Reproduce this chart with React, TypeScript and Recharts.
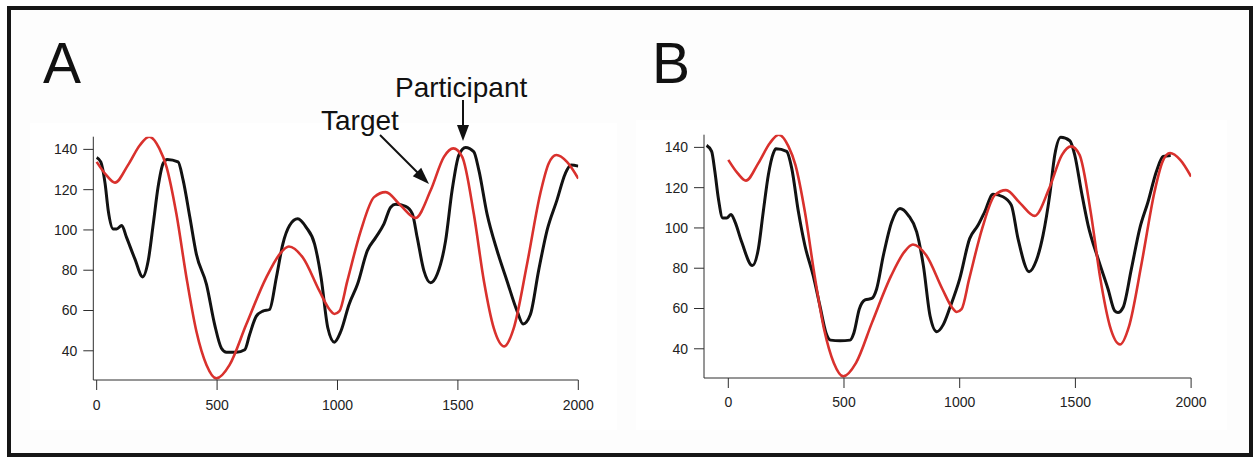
import React from 'react'
import { LineChart, Line, XAxis, YAxis } from 'recharts'

// Target trace (same in both panels)
const targetX = [0, 40, 76, 130, 180, 218, 260, 290, 331, 373, 414, 456, 497, 552, 621, 704, 760, 798, 856, 925, 967, 987, 1008, 1041, 1097, 1152, 1200, 1262, 1324, 1387, 1442, 1481, 1518, 1566, 1608, 1649, 1693, 1732, 1787, 1842, 1877, 1909, 1953, 2000]
const targetY = [133.8, 127.2, 123.5, 132.2, 142.2, 146.3, 140.5, 131.3, 108, 76.3, 49.7, 33, 26.3, 33, 53, 76.3, 88, 91.8, 86.3, 69.7, 60.5, 58.3, 59.7, 74.7, 99.7, 116.3, 118.8, 112.2, 106, 119.7, 136.3, 140.5, 136.3, 108, 74.7, 51.3, 42.2, 51.3, 83, 118, 133, 137.2, 133.8, 125.5]

// Participant trace, panel A (lagging)
const partAX = [0, 17, 35, 48, 69, 83, 104, 124, 159, 191, 214, 235, 255, 276, 293, 338, 359, 387, 414, 456, 490, 518, 539, 580, 615, 635, 663, 690, 718, 746, 773, 801, 835, 870, 905, 932, 960, 987, 1014, 1048, 1083, 1124, 1159, 1193, 1221, 1242, 1283, 1311, 1331, 1359, 1387, 1414, 1449, 1476, 1504, 1532, 1566, 1587, 1621, 1663, 1704, 1746, 1771, 1801, 1835, 1870, 1911, 1946, 1970, 2000]
const partAY = [136, 133.8, 123, 109.7, 100.5, 100.5, 102.2, 96.3, 85.5, 76.7, 84.7, 103, 121.3, 133, 135, 133.8, 124.7, 106.3, 88, 73, 53, 41.3, 39.3, 39.3, 40.5, 48, 57.2, 59.7, 60.5, 76.3, 93, 102.2, 105.5, 101.3, 93, 76.3, 51.3, 44.3, 49.7, 63, 73, 89.7, 96.3, 103, 111.3, 112.7, 111.7, 108, 96.3, 79.7, 73.8, 78, 94.7, 119.7, 137.2, 141, 138.8, 129.7, 108, 89.7, 74.7, 59.7, 53.3, 58, 79.7, 99.7, 114.7, 128, 132.2, 131.7]

// Participant trace, panel B (shifted)
const partBX = [-94, -72, -58, -43, -24, -7, 12, 29, 58, 104, 130, 151, 173, 195, 206, 252, 274, 303, 331, 367, 396, 422, 442, 483, 526, 543, 566, 591, 620, 641, 670, 706, 742, 778, 814, 843, 872, 901, 929, 958, 1000, 1043, 1079, 1108, 1144, 1187, 1223, 1252, 1300, 1331, 1360, 1389, 1411, 1437, 1476, 1497, 1526, 1555, 1598, 1641, 1670, 1684, 1706, 1742, 1778, 1814, 1850, 1879, 1912]
const partBY = [141, 138, 128, 114.7, 105, 105, 106.7, 103, 93, 81.3, 89.7, 108, 126.3, 137.2, 139.3, 138, 129.7, 108, 91.3, 76.3, 61.3, 48, 44.3, 44, 44.3, 48, 59.7, 64.3, 65, 69.7, 86.3, 103, 109.7, 106.3, 98, 81.3, 56.3, 48.5, 52, 60.5, 74.7, 94.7, 101.3, 108, 116.7, 115.5, 111.3, 94.7, 78.3, 83.8, 96.3, 116.3, 136.3, 145, 143.3, 136.3, 118, 101.3, 84.7, 69.7, 58.8, 58, 60.5, 79.7, 99.7, 113, 128, 135.5, 136]

const xTicks = [0, 500, 1000, 1500, 2000]
const yTicks = [40, 60, 80, 100, 120, 140]

const toPoints = (xs: number[], ys: number[]) => xs.map((x, i) => ({ x, y: ys[i] }))

const FONT = '"Liberation Sans", Arial, Helvetica, sans-serif'
const AXIS = '#2e2e2e'
const RED = '#d9312d'
const BLACK = '#121212'

interface PanelProps {
  left: number
  xMin: number
  margin: { top: number; right: number; bottom: number; left: number }
  participant: { x: number; y: number }[]
  xTickMargin: number
}

const target = toPoints(targetX, targetY)

function Panel({ left, xMin, margin, participant, xTickMargin }: PanelProps) {
  return (
    <div style={{ position: 'absolute', left, top: 0 }}>
      <LineChart width={630} height={460} margin={margin}>
        <XAxis
          type="number"
          dataKey="x"
          domain={[xMin, 2000]}
          ticks={xTicks}
          interval={0}
          allowDataOverflow
          stroke={AXIS}
          tickSize={10}
          tickMargin={xTickMargin}
          height={30}
          tick={{ fill: '#222', fontSize: 14, fontFamily: FONT }}
        />
        <YAxis
          type="number"
          domain={[25.5, 146.3]}
          ticks={yTicks}
          interval={0}
          allowDataOverflow
          stroke={AXIS}
          tickSize={10}
          tickMargin={6}
          width={60}
          tick={{ fill: '#222', fontSize: 14, fontFamily: FONT }}
        />
        <Line data={participant} dataKey="y" type="monotone" stroke={BLACK} strokeWidth={3} dot={false} activeDot={false} isAnimationActive={false} />
        <Line data={target} dataKey="y" type="monotone" stroke={RED} strokeWidth={2.6} dot={false} activeDot={false} isAnimationActive={false} />
      </LineChart>
    </div>
  )
}

export default function App() {
  return (
    <div style={{ position: 'absolute', left: 0, top: 0, width: 1260, height: 460, background: '#fff', fontFamily: FONT }}>
      <div
        style={{
          position: 'absolute',
          left: 7,
          top: 6,
          width: 1246,
          height: 451,
          border: '4px solid #161616',
          boxSizing: 'border-box',
          background: '#fdfdfd',
        }}
      />
      <div style={{ position: 'absolute', left: 30, top: 123, width: 587, height: 307, background: '#fff' }} />
      <div style={{ position: 'absolute', left: 636, top: 120, width: 591, height: 310, background: '#fff' }} />

      <Panel
        left={0}
        xMin={-14}
        margin={{ top: 136.7, right: 51.7, left: 33.3, bottom: 50 }}
        participant={toPoints(partAX, partAY)}
        xTickMargin={10}
      />
      <Panel
        left={630}
        xMin={-105}
        margin={{ top: 134.7, right: 68.9, left: 14, bottom: 52 }}
        participant={toPoints(partBX, partBY)}
        xTickMargin={9}
      />

      <svg width={1260} height={460} style={{ position: 'absolute', left: 0, top: 0, pointerEvents: 'none' }}>
        <text x={43} y={83} fontSize={57} fill="#111" fontFamily={FONT}>A</text>
        <text x={652} y={83} fontSize={57} fill="#111" fontFamily={FONT}>B</text>

        <text x={395} y={97} fontSize={28} fill="#111" fontFamily={FONT}>Participant</text>
        <line x1={463} y1={100} x2={463} y2={128} stroke="#111" strokeWidth={2} />
        <polygon points="463,141 457,125 469,125" fill="#111" />

        <text x={321} y={130} fontSize={28} fill="#111" fontFamily={FONT}>Target</text>
        <line x1={380} y1={135} x2={418} y2={173} stroke="#111" strokeWidth={2} />
        <polygon points="429,184 412.8,176.2 421.2,167.8" fill="#111" />
      </svg>
    </div>
  )
}
